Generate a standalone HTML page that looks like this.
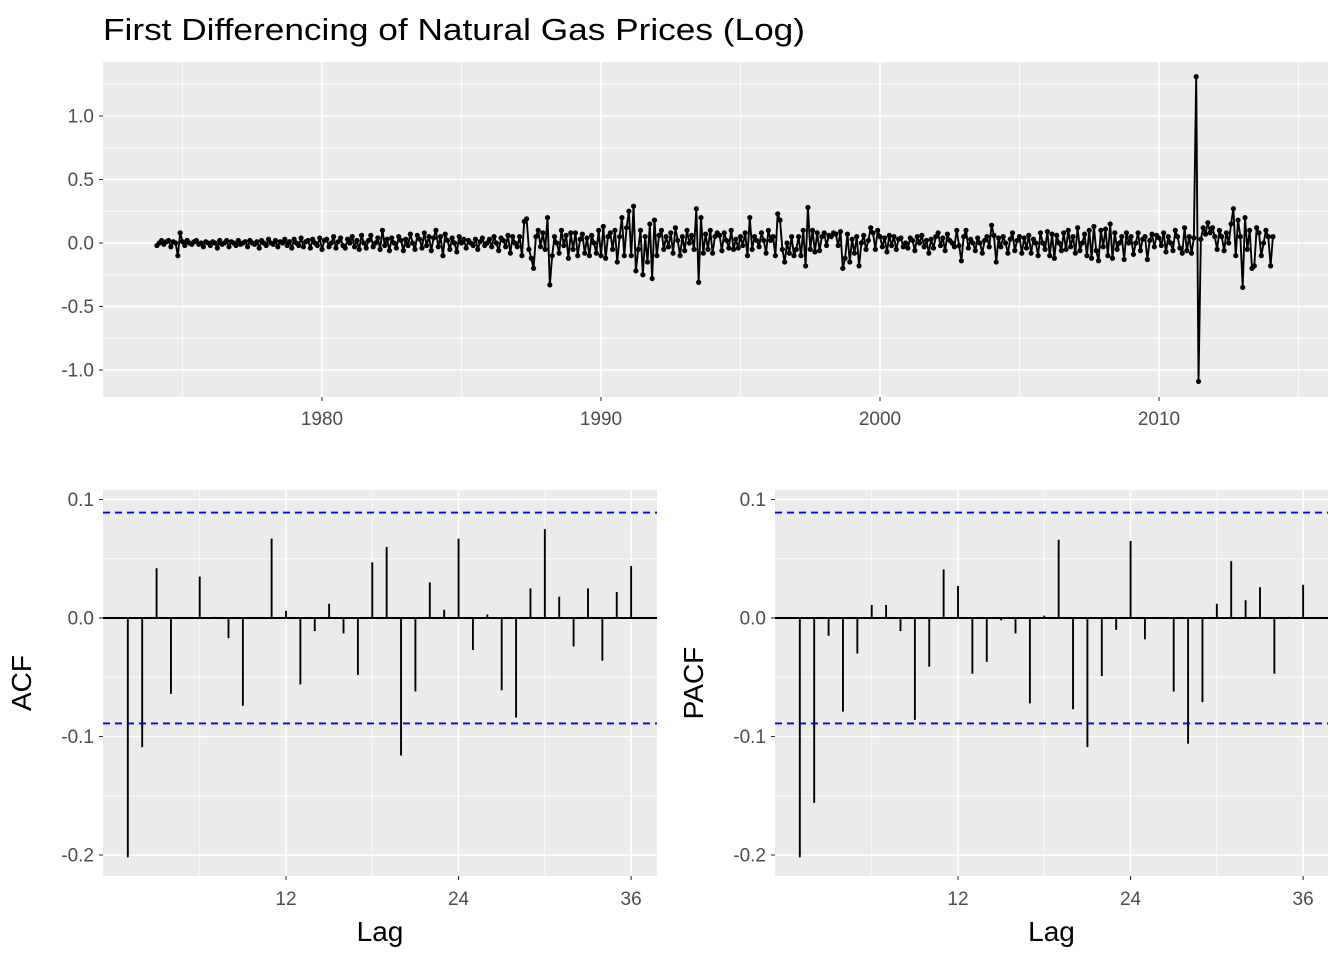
<!DOCTYPE html>
<html><head><meta charset="utf-8"><style>
body{margin:0;background:#fff;}
svg text{font-family:"Liberation Sans",Arial,sans-serif;}
</style></head><body>
<svg id="c" width="1344" height="960" xmlns="http://www.w3.org/2000/svg"></svg>
<script>
const startYear = 1974 + 1/12;
const seriesValues = [
-0.02,0.0,0.02,-0.01,0.01,0.02,-0.03,0.01,0.0,-0.1,0.08,
0.01,-0.02,0.02,0.0,-0.01,0.01,0.02,-0.01,0.0,-0.03,0.01,0.0,
-0.02,0.01,0.0,-0.04,0.02,-0.01,0.0,0.02,-0.03,0.01,0.0,-0.02,
0.02,-0.01,0.0,0.01,-0.03,0.02,0.0,-0.01,0.01,-0.04,0.02,0.0,
-0.02,0.03,0.0,-0.01,0.02,-0.03,0.01,0.0,0.03,-0.02,0.01,-0.04,
0.03,0.0,-0.02,0.04,-0.03,0.01,0.02,-0.04,0.03,0.0,-0.02,0.04,
-0.05,0.02,0.03,-0.03,0.0,0.05,-0.04,0.01,0.04,-0.02,-0.04,0.03,
0.0,0.05,-0.03,0.02,-0.05,0.06,0.0,-0.04,0.02,0.06,-0.03,0.0,
0.04,-0.05,0.1,-0.02,0.03,-0.06,0.04,0.0,-0.04,0.05,0.02,-0.06,
0.03,-0.02,0.07,0.0,-0.05,0.06,0.03,-0.04,0.08,-0.02,0.05,-0.06,
0.04,0.1,-0.03,0.05,-0.1,0.07,0.02,-0.05,0.04,0.0,-0.07,0.05,
0.0,0.03,-0.04,0.02,0.0,-0.02,0.03,-0.05,0.01,0.04,-0.02,0.0,
0.03,-0.03,0.05,0.0,-0.06,0.04,0.02,-0.03,0.06,-0.08,0.05,0.0,
-0.03,0.05,-0.1,0.17,0.19,-0.05,-0.12,-0.2,0.05,0.1,-0.03,0.08,
-0.05,0.2,-0.33,-0.1,0.05,0.0,-0.08,0.1,-0.02,0.06,-0.12,0.08,
-0.05,0.08,-0.1,0.03,0.07,-0.08,0.04,-0.1,0.06,0.0,-0.08,0.1,
-0.1,0.13,-0.12,0.05,0.08,-0.05,0.1,-0.15,0.05,0.2,-0.1,0.12,
0.25,-0.1,0.29,-0.22,-0.05,0.1,-0.25,0.05,-0.15,0.15,-0.28,0.18,
-0.1,0.06,0.1,-0.05,0.05,-0.03,0.08,-0.08,0.12,0.02,-0.1,0.05,
-0.06,0.1,0.0,0.06,-0.05,0.27,-0.31,0.2,-0.08,0.07,-0.05,0.1,
-0.08,0.05,0.08,0.06,-0.06,0.08,0.02,-0.04,0.1,-0.05,0.03,-0.04,
0.05,-0.02,0.08,-0.1,0.2,-0.05,0.05,0.02,-0.03,0.08,0.02,-0.08,
0.1,0.02,0.05,-0.1,0.23,0.18,-0.05,-0.15,0.0,-0.08,0.05,-0.1,
-0.05,0.05,-0.1,0.1,-0.18,0.28,-0.05,0.1,-0.07,0.08,-0.06,0.05,
0.08,-0.02,0.06,0.05,0.08,0.07,-0.02,0.09,-0.2,-0.12,0.07,-0.15,
0.03,-0.08,0.05,-0.18,0.0,0.06,-0.05,0.02,0.12,0.08,-0.05,0.1,
0.05,-0.03,0.04,-0.07,0.06,-0.02,0.05,-0.05,0.03,0.04,-0.03,0.0,
-0.04,0.04,0.02,-0.06,0.05,0.0,0.06,-0.03,0.02,-0.08,0.03,-0.04,
0.05,0.08,-0.02,0.04,-0.06,0.07,0.02,0.0,-0.03,0.1,-0.02,-0.14,
0.05,0.1,-0.04,0.03,0.0,-0.06,0.04,0.0,-0.08,0.02,0.05,-0.03,
0.14,0.06,-0.15,0.04,-0.03,0.05,0.0,-0.08,0.03,0.08,-0.06,0.02,
0.05,-0.08,0.04,-0.04,0.06,-0.08,0.03,0.0,-0.1,0.08,0.0,-0.05,
0.09,-0.1,0.07,-0.12,0.06,0.0,-0.06,0.08,-0.05,0.1,-0.03,0.05,
-0.08,0.12,-0.06,0.0,0.07,-0.1,0.1,-0.12,0.13,-0.06,-0.14,0.1,
-0.03,0.11,-0.1,0.15,-0.12,0.08,-0.05,0.0,0.05,-0.13,0.08,0.0,
0.05,-0.09,0.0,0.08,-0.06,0.03,0.05,-0.13,0.02,0.07,-0.03,0.06,
0.04,-0.02,0.08,-0.07,0.05,0.0,-0.06,0.1,0.05,-0.04,-0.08,0.12,
-0.06,0.05,-0.08,0.04,1.31,-1.09,0.03,0.12,0.07,0.16,0.08,0.12,
0.05,-0.05,0.1,0.05,-0.06,0.08,0.0,0.15,0.27,-0.1,0.18,0.05,
-0.35,0.2,-0.05,0.1,-0.2,-0.18,0.12,0.08,-0.1,0.0,0.1,0.05,
-0.18,0.05
];
const topYTicks = [-1.0,-0.5,0.0,0.5,1.0];
const topYTickLabels = ["-1.0","-0.5","0.0","0.5","1.0"];
const topXTicks = [1980,1990,2000,2010];
const acfValues = [-0.202,-0.109,0.042,-0.064,0.0,0.035,0.001,-0.017,-0.074,0.0,0.067,0.006,-0.056,-0.011,0.012,-0.013,-0.048,0.047,0.060,-0.116,-0.062,0.030,0.007,0.067,-0.027,0.003,-0.061,-0.084,0.025,0.075,0.018,-0.024,0.025,-0.036,0.022,0.044];
const pacfValues = [-0.202,-0.156,-0.015,-0.079,-0.030,0.011,0.011,-0.011,-0.086,-0.041,0.041,0.027,-0.047,-0.037,-0.002,-0.013,-0.072,0.002,0.066,-0.077,-0.109,-0.049,-0.010,0.065,-0.018,0.0,-0.062,-0.106,-0.071,0.012,0.048,0.015,0.026,-0.047,0.001,0.028];
const ciBound = 0.089;
const corrYTicks = [-0.2,-0.1,0.0,0.1];
const corrYTickLabels = ["-0.2","-0.1","0.0","0.1"];
const lagTicks = [12,24,36];

const svg = document.getElementById('c');
const NS = 'http://www.w3.org/2000/svg';
function mk(tag, attrs, parent){const e=document.createElementNS(NS,tag);for(const k in attrs)e.setAttribute(k,attrs[k]);(parent||svg).appendChild(e);return e;}
const TICK_FS = '19';

const title = mk('text',{x:103,y:40,'font-size':'31',fill:'#000',textLength:'702',lengthAdjust:'spacingAndGlyphs'});
title.textContent='First Differencing of Natural Gas Prices (Log)';



const T={x0:103,x1:1328,y0:62,y1:397};
const tx = v => 322 + (v-1980)*27.9;
const ty = v => 243 - v*127;
const tp = mk('rect',{x:T.x0,y:T.y0,width:T.x1-T.x0,height:T.y1-T.y0,fill:'#ebebeb'});


for(let v=-1.25; v<=1.3; v+=0.5){mk('line',{x1:T.x0,x2:T.x1,y1:ty(v),y2:ty(v),stroke:'#fff','stroke-width':0.8});}
for(let yr=1975; yr<=2015; yr+=10){mk('line',{x1:tx(yr),x2:tx(yr),y1:T.y0,y2:T.y1,stroke:'#fff','stroke-width':0.8});}
topYTicks.forEach((v,i)=>{
  mk('line',{x1:T.x0,x2:T.x1,y1:ty(v),y2:ty(v),stroke:'#fff','stroke-width':1.6});
  mk('line',{x1:T.x0-4,x2:T.x0,y1:ty(v),y2:ty(v),stroke:'#333','stroke-width':1.1});
  const t=mk('text',{x:T.x0-9,y:ty(v)+6.5,'font-size':TICK_FS,fill:'#4d4d4d','text-anchor':'end'});
  t.textContent=topYTickLabels[i];
  
  
});
topXTicks.forEach(v=>{
  mk('line',{x1:tx(v),x2:tx(v),y1:T.y0,y2:T.y1,stroke:'#fff','stroke-width':1.6});
  mk('line',{x1:tx(v),x2:tx(v),y1:T.y1,y2:T.y1+4,stroke:'#333','stroke-width':1.1});
  const t=mk('text',{x:tx(v),y:T.y1+28,'font-size':TICK_FS,fill:'#4d4d4d','text-anchor':'middle'});
  t.textContent=String(v);
  
  
});
const pts = seriesValues.map((v,i)=>[tx(startYear+i/12), ty(v)]);
const line = mk('polyline',{points:pts.map(p=>p[0].toFixed(2)+','+p[1].toFixed(2)).join(' '),fill:'none',stroke:'#000','stroke-width':1.9,'stroke-linejoin':'round'});


pts.forEach(p=>{
  const c=mk('circle',{cx:p[0],cy:p[1],r:2.6,fill:'#000'});
  
  
});

function corr(values, px0, px1, lag12x, name, ylabel){
  const lx = l => lag12x + (l-12)*14.38;
  const cy = v => 618 - v*1185;
  const y0=490,y1=876;
  const bg=mk('rect',{x:px0,y:y0,width:px1-px0,height:y1-y0,fill:'#ebebeb'});
  
  
  [-0.15,-0.05,0.05].forEach(v=>mk('line',{x1:px0,x2:px1,y1:cy(v),y2:cy(v),stroke:'#fff','stroke-width':0.8}));
  [6,18,30].forEach(v=>mk('line',{x1:lx(v),x2:lx(v),y1:y0,y2:y1,stroke:'#fff','stroke-width':0.8}));
  corrYTicks.forEach((v,i)=>{
    mk('line',{x1:px0,x2:px1,y1:cy(v),y2:cy(v),stroke:'#fff','stroke-width':1.6});
    mk('line',{x1:px0-4,x2:px0,y1:cy(v),y2:cy(v),stroke:'#333','stroke-width':1.1});
    const t=mk('text',{x:px0-9,y:cy(v)+6.5,'font-size':TICK_FS,fill:'#4d4d4d','text-anchor':'end'});
    t.textContent=corrYTickLabels[i];
    
    
  });
  lagTicks.forEach(v=>{
    mk('line',{x1:lx(v),x2:lx(v),y1:y0,y2:y1,stroke:'#fff','stroke-width':1.6});
    mk('line',{x1:lx(v),x2:lx(v),y1:y1,y2:y1+4,stroke:'#333','stroke-width':1.1});
    const t=mk('text',{x:lx(v),y:y1+29,'font-size':TICK_FS,fill:'#4d4d4d','text-anchor':'middle'});
    t.textContent=String(v);
    
    
  });
  const z=mk('line',{x1:px0,x2:px1,y1:cy(0),y2:cy(0),stroke:'#000','stroke-width':1.9});
  
  
  values.forEach((v,i)=>{
    const b=mk('line',{x1:lx(i+1),x2:lx(i+1),y1:cy(0),y2:cy(v),stroke:'#000','stroke-width':1.9});
    
    
  });
  [ciBound,-ciBound].forEach(v=>{
    const d=mk('line',{x1:px0,x2:px1,y1:cy(v),y2:cy(v),stroke:'#0000ff','stroke-width':1.9,'stroke-dasharray':'7,5'});
    
    
  });
  const xl=mk('text',{x:(px0+px1)/2,y:941,'font-size':'28',fill:'#000','text-anchor':'middle'});
  xl.textContent='Lag';
  
  
  const yx=px0-72;
  const yl=mk('text',{x:yx,y:683,'font-size':'28',fill:'#000','text-anchor':'middle',transform:'rotate(-90 '+yx+' 683)'});
  yl.textContent=ylabel;
  
  
}
corr(acfValues,103,657,286,'acf','ACF');
corr(pacfValues,775,1328,958,'pacf','PACF');
</script>
</body></html>
